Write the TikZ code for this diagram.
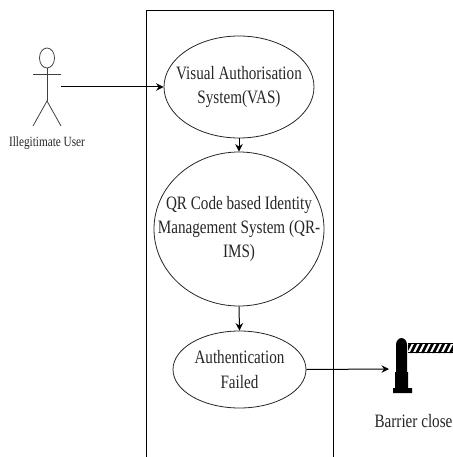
\documentclass[tikz,border=0pt]{standalone}
\usepackage{fontspec}
\setmainfont{Liberation Serif}
\newfontfamily\narrowfont[FakeStretch=0.8]{Liberation Serif}
\usetikzlibrary{shapes.geometric,arrows.meta}
\tikzset{
  usecase/.style={draw=black!85,line width=0.8bp,ellipse,inner sep=0pt},
  casetext/.style={align=center,inner sep=0pt,text=black!85,font=\narrowfont\fontsize{19}{24.3}\selectfont},
  wire/.style={draw=black,line width=1bp},
  flow/.style={draw=black,line width=1bp,-{Stealth[length=7.5bp,width=7.5bp]}},
  stick/.style={draw=black!75,line width=0.8bp},
  caption/.style={text=black!85,inner sep=0pt}
}
\begin{document}
\begin{tikzpicture}[x=1bp,y=-1bp]
\useasboundingbox (0,0) rectangle (453,457);
\draw[wire] (146,457) -- (146,10.5) -- (333.5,10.5) -- (333.5,457);
\node[usecase,minimum width=150bp,minimum height=102bp] (vas) at (239,87) {};
\node[casetext] (vastext) at (vas.center) {Visual Authorisation\\System(VAS)};
\node[usecase,minimum width=170bp,minimum height=154bp] (qr) at (239,229) {};
\node[casetext] (qrtext) at (qr.center) {QR Code based Identity\\Management System (QR-\\IMS)};
\node[usecase,minimum width=133bp,minimum height=77bp] (auth) at (239.5,369.5) {};
\node[casetext] (authtext) at (auth.center) {Authentication\\Failed};
% actor
\node[draw=black!75,line width=0.8bp,ellipse,minimum width=15bp,minimum height=20bp,inner sep=0pt] (head) at (47,58) {};
\coordinate (hip) at (47,101);
\coordinate (hand) at (61,87);
\draw[stick] (head.south) -- (hip);
\draw[stick] (33,74) -- (61,74);
\draw[stick] (33,126) -- (hip) -- (61,126);
\node[caption,font=\narrowfont\fontsize{14.1}{17}\selectfont] (user) at (47,143) {Illegitimate User};
% barrier
\fill[black] (395,393) -- (393,393) -- (393,388) -- (395,388) -- (395,372) -- (396,372) -- (396,345) arc[start angle=180,end angle=0,x radius=5.5,y radius=-7] -- (407,372) -- (408,372) -- (408,388) -- (412,388) -- (412,393) -- cycle;
\begin{scope}
\clip (408,343) rectangle (453,353);
\foreach \k in {0,...,9} \fill[black] ({404+5.6*\k},353) -- ({407+5.6*\k},353) -- ({412+5.6*\k},343) -- ({409+5.6*\k},343) -- cycle;
\end{scope}
\draw[black,line width=0.8bp] (408,343.3) -- (453,343.3) (408,352.7) -- (453,352.7);
\coordinate (barrier) at (389,369);
\node[caption,font=\narrowfont\fontsize{19}{22}\selectfont] (blabel) at (413.5,421) {Barrier close};
% connectors
\draw[flow] (hand) -- (vas.west);
\draw[flow] (vas.south) -- (qr.north);
\draw[flow] (qr.south) -- (auth.north);
\draw[flow] (auth.east) -- (barrier);
\end{tikzpicture}
\end{document}
